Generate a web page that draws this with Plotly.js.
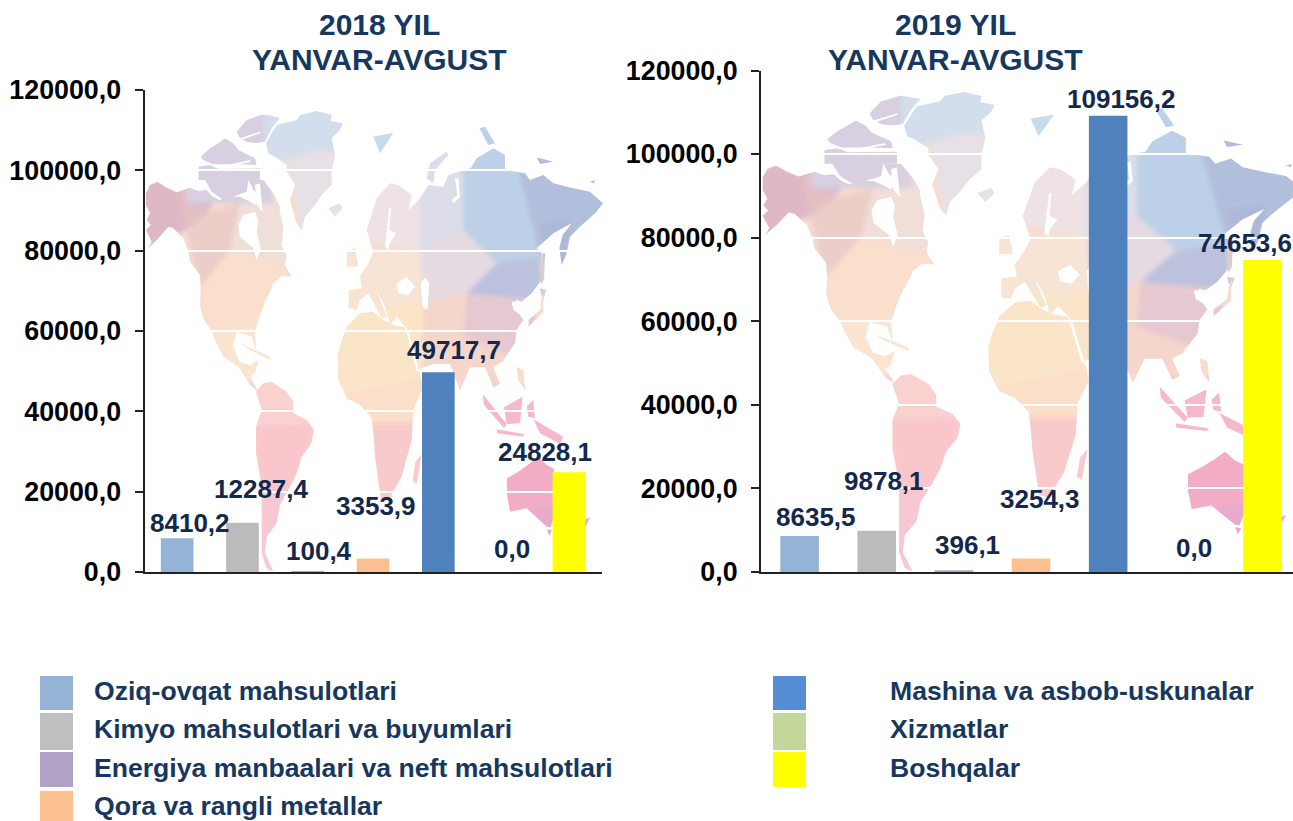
<!DOCTYPE html>
<html><head><meta charset="utf-8">
<script src="https://cdn.plot.ly/plotly-3.0.1.min.js"></script>
<style>html,body{margin:0;padding:0;background:#fff;overflow:hidden}#chart{width:1293px;height:821px}</style>
</head><body><div id="chart"></div>
<script>
// ---------- data ----------
const categories = ["Oziq-ovqat mahsulotlari","Kimyo mahsulotlari va buyumlari","Energiya manbaalari va neft mahsulotlari","Qora va rangli metallar","Mashina va asbob-uskunalar","Xizmatlar","Boshqalar"];
const values2018 = [8410.2,12287.4,100.4,3353.9,49717.7,0.0,24828.1];
const values2019 = [8635.5,9878.1,396.1,3254.3,109156.2,0.0,74653.6];
const barColors = ["#95B3D7","#BBBBBB","#B2A2C7","#FAC090","#4F81BD","#C3D69B","#FFFF00"];
const legendColors = ["#95B3D7","#BFBFBF","#B2A2C7","#FAC090","#558ED5","#C3D69B","#FFFF00"];
const tickVals = [0,20000,40000,60000,80000,100000,120000];
const tickText = ["0,0","20000,0","40000,0","60000,0","80000,0","100000,0","120000,0"];
const titleLine2 = "YANVAR-AVGUST";
// label offsets from the bar top (px)
const shift2018x = [13,19,11,3,16,8.5,-24], shift2018y = [15,34,21,53,22,23,20];
const shift2019x = [16,7.3,14,9,12.7,9,-17.7], shift2019y = [18.6,49.7,25,59,16.4,23.7,17];

// ---------- decorative background map (outline coordinates in a 1470 box) ----------
const A = p=>p.map(q=>[q[0]+30,q[1]+45]);
const B = p=>p.map(q=>[630+q[0],q[1]+90]);
const land = [
 // North America
 [[48,310],[60,285],[82,275],[110,293],[140,307],[180,293],[205,303],[230,300],[248,320],[270,330],[295,320],[330,320],[360,335],[375,345],[400,295],[430,315],[450,365],[460,415],[455,465],[470,495],[465,525],[485,560],[455,558],[430,580],[425,595],[405,635],[390,675],[375,725],[380,790],[365,740],[320,725],[310,770],[328,815],[360,825],[385,810],[375,850],[360,860],[385,905],[360,885],[325,830],[280,800],[262,765],[245,725],[220,685],[210,645],[212,605],[210,555],[180,515],[175,485],[160,445],[130,415],[115,410],[85,445],[55,475],[65,455],[48,420],[62,405],[50,390],[60,370],[48,345]],
 // Arctic archipelago
 A([[290,80],[320,45],[370,28],[420,38],[395,70],[375,110],[345,115],[320,110],[300,100]]),
 A([[182,155],[210,130],[235,115],[255,100],[280,115],[295,135],[345,160],[350,180],[290,178],[220,178],[190,165]]),
 A([[175,185],[210,180],[235,192],[360,190],[360,225],[325,225],[320,260],[280,275],[250,285],[215,260],[195,225],[175,225]]),
 A([[325,225],[370,225],[400,265],[420,305],[415,335],[375,290],[340,255]]),
 // Greenland, Iceland
 A([[378,115],[410,60],[470,45],[480,30],[530,18],[575,30],[572,48],[608,55],[600,75],[575,100],[585,150],[575,200],[575,240],[545,270],[525,300],[495,335],[485,375],[468,350],[450,285],[465,240],[440,200],[440,180],[405,155],[385,145]]),
 A([[565,310],[600,295],[608,310],[585,335]]),
 // Eurasia
 B([[25,510],[65,505],[60,470],[85,430],[100,395],[95,380],[80,330],[110,235],[150,190],[175,195],[215,225],[205,270],[240,235],[265,195],[310,200],[325,165],[370,150],[392,145],[410,115],[460,85],[495,105],[495,150],[555,160],[570,180],[610,165],[640,190],[700,205],[750,215],[789,250],[770,275],[720,320],[690,350],[680,400],[665,435],[658,385],[668,345],[695,310],[640,340],[590,385],[605,400],[612,470],[575,520],[545,545],[530,540],[520,555],[550,600],[530,630],[525,670],[490,720]]).concat(
  [[1122,812],[1090,832],[1110,882],[1090,892],[1065,832],[1020,832],[990,902],[960,822],[910,822],[860,840],[830,722]],
  B([[200,625],[170,590],[150,615],[135,560],[108,505],[140,590],[125,595],[85,520],[60,540],[50,570],[25,565]])),
 // Arctic and Pacific islands
 B([[260,175],[270,130],[320,95],[325,105],[285,150],[280,190]]),
 B([[100,50],[160,38],[140,70],[120,100]]),
 B([[418,25],[435,20],[465,70],[445,75]]),
 B([[590,112],[640,125],[600,132]]),
 B([[750,185],[765,180],[762,190]]),
 B([[20,395],[45,385],[55,440],[20,440]]),
 B([[565,600],[600,570],[605,535],[620,505],[610,540],[610,575],[565,620]]),
 B([[600,505],[620,510],[605,530]]),
 B([[608,400],[615,400],[612,480],[602,495]]),
 // Africa, South America
 [[622,800],[632,760],[650,710],[690,670],[730,665],[760,690],[790,705],[825,712],[850,790],[870,850],[878,895],[850,960],[845,1050],[815,1160],[775,1232],[752,1225],[735,1100],[730,1030],[725,985],[690,945],[650,925],[625,870]],
 [[378,905],[400,880],[425,875],[470,905],[490,935],[490,970],[530,990],[552,1020],[545,1060],[515,1100],[500,1150],[480,1190],[450,1245],[440,1300],[410,1340],[405,1390],[430,1445],[410,1435],[395,1390],[395,1300],[395,1190],[378,1090],[378,1010],[395,960]],
 // Oceania and south-east Asia
 [[1130,1165],[1165,1145],[1200,1120],[1225,1100],[1250,1125],[1270,1135],[1290,1230],[1262,1312],[1250,1310],[1190,1255],[1140,1265],[1130,1210]],
 [[1250,1318],[1266,1320],[1258,1338]],
 [[1362,1290],[1380,1282],[1360,1325],[1350,1322]],
 [[875,1092],[860,1182],[848,1172],[856,1116]],
 [[1058,912],[1130,1002],[1122,1014],[1062,945]],
 [[1122,952],[1178,920],[1170,1000],[1130,1002]],
 [[1100,1018],[1182,1032],[1180,1040],[1100,1030]],
 [[1210,988],[1300,1040],[1290,1062],[1230,1030]],
 [[1160,830],[1180,840],[1185,900],[1165,870]],
 [[1190,950],[1210,930],[1215,985],[1195,980]],
 [[330,760],[420,800],[420,810],[360,780]]
];
const cells = [
 ["#c6dcec",[[690,0],[1470,0],[1470,260],[690,260]]],
 ["#e9e2e8",[[570,300],[690,300],[690,420],[570,420]]],
 ["#dfb8c6",[[30,260],[150,260],[170,420],[30,490]]],
 ["#e3c0c4",[[150,260],[240,340],[230,380],[170,420]]],
 ["#d6bdd0",[[180,285],[245,318],[245,358],[190,345]]],
 ["#eccdc8",[[170,420],[230,370],[330,340],[300,480],[210,600]]],
 ["#f0dfd8",[[330,340],[450,320],[500,560],[300,480]]],
 ["#d8cfe0",[[170,40],[410,40],[430,340],[170,340]]],
 ["#d2deec",[[400,40],[690,40],[690,190],[560,180],[470,210],[400,220]]],
 ["#e7e0e6",[[470,210],[560,180],[690,190],[690,300],[520,440]]],
 ["#f9dfcc",[[205,600],[300,480],[500,540],[380,720],[230,720]]],
 ["#fbe5d0",[[230,720],[430,720],[430,910],[340,910]]],
 ["#f9d2d0",[[360,870],[500,870],[560,1000],[370,1010]]],
 ["#f9c6cc",[[370,1010],[560,1000],[500,1200],[390,1200]]],
 ["#f8c8d2",[[390,1200],[500,1200],[440,1450],[390,1450]]],
 ["#eee2e4",[[640,440],[720,250],[880,270],[870,480]]],
 ["#f7e4d4",[[640,480],[870,480],[880,640],[640,660]]],
 ["#fbe5c8",[[610,660],[880,640],[880,860],[610,920]]],
 ["#fbdfc8",[[610,920],[880,860],[880,1000],[720,1000]]],
 ["#f8cacb",[[720,1000],[890,1000],[890,1240],[740,1240]]],
 ["#dcdde9",[[870,180],[1000,180],[1000,420],[870,480]]],
 ["#bcd1e7",[[1000,100],[1150,100],[1230,500],[1100,520],[1000,420]]],
 ["#b2bfdc",[[1150,180],[1430,180],[1430,400],[1230,500]]],
 ["#e5dae2",[[870,480],[1000,420],[1100,520],[1010,610],[880,640]]],
 ["#bcc1de",[[1100,520],[1230,500],[1240,620],[1170,630],[1010,610]]],
 ["#adb8d9",[[1230,400],[1330,385],[1310,560],[1250,620]]],
 ["#e6c8d0",[[1010,610],[1170,625],[1250,720],[1150,810],[1000,740]]],
 ["#f5d6cb",[[880,640],[1010,610],[1000,740],[1150,800],[1120,900],[880,860]]],
 ["#f6b9cb",[[1040,890],[1320,890],[1320,1080],[1040,1080]]],
 ["#f3acc5",[[1120,1080],[1400,1080],[1400,1350],[1120,1350]]],
 ["#e8aacb",[[1210,1250],[1400,1250],[1400,1350],[1210,1350]]]
];
const cutouts = [
 A([[310,330],[345,320],[355,345],[350,380],[362,430],[350,465],[340,430],[300,395],[295,360]]),
 B([[170,490],[200,470],[225,500],[205,525],[175,520]]),
 B([[242,490],[255,472],[268,490],[262,570],[248,560]]),
 B([[135,380],[147,265],[153,265],[148,330],[168,340],[150,368],[145,390]]),
 B([[335,240],[352,225],[345,175],[355,175],[360,230],[340,250]]),
 B([[515,545],[535,545],[550,590],[520,570]]),
 [[828,720],[836,725],[868,845],[860,842]],
 A([[240,185],[330,165],[332,170],[245,190]]),
 A([[300,100],[360,80],[362,84],[305,105]]),
 A([[345,240],[360,235],[368,320],[350,300]])
];
function pathOf(p){return "M"+p.map(q=>q.map(n=>Math.round(n)).join(",")).join("L")+"Z";}
const mapSvg = '<svg xmlns="http://www.w3.org/2000/svg" xmlns:xlink="http://www.w3.org/1999/xlink" width="1470" height="1470" viewBox="0 0 1470 1470" preserveAspectRatio="none">'
 + '<defs>'+land.map((p,i)=>'<clipPath id="c'+i+'"><path d="'+pathOf(p)+'"/></clipPath>').join("")+'<filter id="b" x="0" y="0" width="100%" height="100%"><feGaussianBlur stdDeviation="7"/></filter>'
 + '<g id="f"><g filter="url(#b)"><rect width="1470" height="1470" fill="#f7dcd0"/>'
 + cells.map(c=>'<path d="'+pathOf(c[1])+'" fill="'+c[0]+'"/>').join("")+'</g></g></defs>'
 + land.map((p,i)=>'<use xlink:href="#f" clip-path="url(#c'+i+')"/>').join("")
 + '<path d="'+cutouts.map(pathOf).join("")+'" fill="#fff"/></svg>';
const mapSrc = "data:image/svg+xml,"+encodeURIComponent(mapSvg);

// ---------- chart ----------
const W=1293,H=821,FONT="Liberation Sans, Arial, sans-serif";
const px=v=>v/W, py=v=>1-v/H;
const cats=categories.map((c,i)=>i);
const barTrace=(vals,xa,ya)=>({type:"bar",x:cats,y:vals,xaxis:xa,yaxis:ya,width:0.5,
  marker:{color:barColors,line:{width:0}},hoverinfo:"x+y",showlegend:false,cliponaxis:false});
const yAxis=(top,anchor)=>({domain:[py(572),py(top)],range:[0,120000],anchor,tickmode:"array",tickvals:tickVals,ticktext:tickText,
  showgrid:true,gridcolor:"#ffffff",gridwidth:2,zeroline:false,showline:true,linecolor:"#222222",linewidth:2,
  ticks:"outside",ticklen:8,tickwidth:1.5,tickcolor:"#222222",ticklabelstandoff:8,
  tickfont:{family:FONT,size:26.8,color:"#000000",weight:700}});
const xAxis=(l,r,rng,anchor)=>({domain:[px(l),px(r)],range:rng,anchor,showgrid:false,zeroline:false,showline:true,linecolor:"#222222",linewidth:2,
  ticks:"",showticklabels:false,fixedrange:true,tickmode:"array",tickvals:cats});
const fmt=v=>v.toFixed(1).replace(".",",");
const annotations=[];
const addLabels=(vals,sx,sy,xr,yr)=>vals.forEach((v,i)=>annotations.push({x:i,y:v,xref:xr,yref:yr,text:"<b>"+fmt(v)+"</b>",showarrow:false,
  xanchor:"center",yanchor:"middle",xshift:sx[i],yshift:sy[i],font:{family:FONT,size:26,color:"#14284B"}}));
addLabels(values2018,shift2018x,shift2018y,"x","y");
addLabels(values2019,shift2019x,shift2019y,"x2","y2");
const title=(t,cx,cy)=>annotations.push({xref:"paper",yref:"paper",x:px(cx),y:py(cy),text:"<b>"+t+"</b>",showarrow:false,xanchor:"center",yanchor:"middle",
  font:{family:FONT,size:30,color:"#17375E"}});
title("2018 YIL",379,25);title(titleLine2,379,59);title("2019 YIL",955,25);title(titleLine2,955,59);
const shapes=[];
const legendRows=[[676,710,691],[713,750,729],[752,787,768],[791,821,806]];
const legendLeft=[40,40,40,40,773,773,773], legendText=[92,92,92,92,888,888,888];
categories.forEach((c,i)=>{const r=legendRows[i<4?i:i-4];
  shapes.push({type:"rect",xref:"paper",yref:"paper",x0:px(legendLeft[i]),x1:px(legendLeft[i]+33),y0:py(r[0]),y1:py(r[1]),fillcolor:legendColors[i],line:{width:0},layer:"below"});
  annotations.push({xref:"paper",yref:"paper",x:px(legendText[i]),y:py(r[2]),text:"<b>"+c+"</b>",showarrow:false,xanchor:"left",yanchor:"middle",font:{family:FONT,size:26.6,color:"#17375E"}});
});
const images=[
 {source:mapSrc,xref:"paper",yref:"paper",x:px(130),y:py(90),sizex:490/W,sizey:490/H,sizing:"stretch",xanchor:"left",yanchor:"top",layer:"below"},
 {source:mapSrc,xref:"paper",yref:"paper",x:px(743.7),y:py(70.1),sizex:577.7/W,sizey:510/H,sizing:"stretch",xanchor:"left",yanchor:"top",layer:"below"}
];
Plotly.newPlot("chart",[barTrace(values2018,"x","y"),barTrace(values2019,"x2","y2")],{
  width:W,height:H,margin:{l:0,r:0,t:0,b:0},paper_bgcolor:"#ffffff",plot_bgcolor:"rgba(0,0,0,0)",showlegend:false,
  xaxis:xAxis(144.5,601.6,[-0.5,6.5],"y"),yaxis:yAxis(90,"x"),
  xaxis2:xAxis(761,1293,[-0.5,6.396],"y2"),yaxis2:yAxis(70.5,"x2"),
  annotations,shapes,images
},{displayModeBar:false});
</script></body></html>
